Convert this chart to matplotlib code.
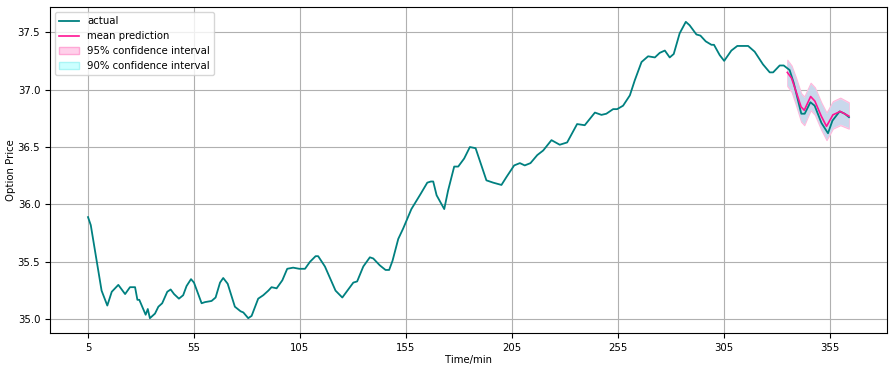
import matplotlib
matplotlib.use("Agg")
import matplotlib.pyplot as plt
from matplotlib.patches import Patch
from matplotlib.lines import Line2D

# actual option price
t_actual = [5, 6.3, 9.1, 11.4, 14.1, 16.2, 19.3, 22.5, 24.8, 27.2, 28.3, 29.2, 32.2, 33.2,
            34.2, 36.6, 38.2, 40.0, 42.4, 44.0, 45.6, 47.9, 49.9, 51.5, 53.6, 55.0, 58.6,
            60.2, 63.3, 65.2, 67.3, 68.8, 70.9, 74.3, 77.0, 78.3, 80.6, 82.2, 85.3, 87.7,
            90.1, 91.6, 94.0, 96.7, 99.0, 101.8, 104.7, 107.4, 109.7, 112.4, 113.6, 116.8,
            119.2, 121.8, 125.0, 128.6, 130.2, 132.0, 134.9, 138.0, 139.6, 142.7, 145.4,
            147.1, 148.7, 151.4, 153.7, 157.6, 161.9, 165.1, 166.8, 167.9, 169.5, 173.1,
            174.9, 177.8, 179.7, 182.5, 185.2, 187.9, 193.0, 196.2, 200.1, 202.5, 206.1,
            208.8, 211.1, 213.8, 217.0, 219.8, 223.7, 227.6, 231.1, 235.8, 239.4, 244.2,
            247.3, 249.6, 252.8, 254.7, 257.5, 260.7, 263.0, 266.2, 269.3, 272.5, 274.8,
            277.2, 279.5, 281.4, 284.2, 287.1, 288.9, 292.1, 294.0, 296.5, 299.2, 300.4,
            303.1, 305.2, 308.6, 311.4, 314.1, 316.5, 319.6, 323.5, 326.7, 328.3, 331.4,
            333.3, 336.1, 338.0, 339.6, 341.6, 343.2, 345.9, 347.9, 351.1, 354.2, 356.3,
            359.7, 362.1, 364.1]
price_actual = [35.89, 35.82, 35.51, 35.25, 35.12, 35.24, 35.30, 35.22, 35.28, 35.28, 35.17,
                35.17, 35.04, 35.09, 35.01, 35.05, 35.11, 35.14, 35.24, 35.26, 35.22, 35.18,
                35.21, 35.29, 35.35, 35.32, 35.14, 35.15, 35.16, 35.19, 35.32, 35.36, 35.31,
                35.11, 35.07, 35.06, 35.01, 35.03, 35.18, 35.21, 35.25, 35.28, 35.27, 35.34,
                35.44, 35.45, 35.44, 35.44, 35.50, 35.55, 35.55, 35.46, 35.36, 35.25, 35.19,
                35.28, 35.32, 35.33, 35.46, 35.54, 35.53, 35.47, 35.43, 35.43, 35.51, 35.70,
                35.79, 35.96, 36.09, 36.19, 36.20, 36.20, 36.08, 35.96, 36.12, 36.33, 36.33,
                36.40, 36.50, 36.49, 36.21, 36.19, 36.17, 36.24, 36.34, 36.36, 36.34, 36.36,
                36.43, 36.47, 36.56, 36.52, 36.54, 36.70, 36.69, 36.80, 36.78, 36.79, 36.83,
                36.83, 36.86, 36.95, 37.08, 37.24, 37.29, 37.28, 37.32, 37.34, 37.28, 37.31,
                37.49, 37.59, 37.56, 37.48, 37.47, 37.42, 37.39, 37.39, 37.30, 37.25, 37.34,
                37.38, 37.38, 37.38, 37.33, 37.22, 37.15, 37.15, 37.21, 37.21, 37.17, 37.06,
                36.94, 36.79, 36.79, 36.89, 36.86, 36.71, 36.62, 36.73, 36.81, 36.79, 36.76]

# prediction and its intervals
t_pred = [335, 337, 339, 341.5, 343, 346, 348, 351, 353.5, 356.5, 360, 364]
mean_pred = [37.15, 37.10, 36.99, 36.85, 36.82, 36.94, 36.90, 36.77, 36.68, 36.78, 36.81, 36.77]
hi95 = [37.26, 37.21, 37.11, 36.97, 36.94, 37.06, 37.02, 36.89, 36.80, 36.90, 36.93, 36.89]
lo95 = [37.03, 36.98, 36.87, 36.72, 36.69, 36.82, 36.78, 36.65, 36.56, 36.66, 36.69, 36.66]
hi90 = [37.25, 37.20, 37.10, 36.96, 36.93, 37.05, 37.01, 36.88, 36.79, 36.89, 36.92, 36.88]
lo90 = [37.04, 36.99, 36.88, 36.73, 36.70, 36.83, 36.79, 36.66, 36.57, 36.67, 36.70, 36.67]

plt.rcParams['font.size'] = 7.3

fig = plt.figure(figsize=(8.94, 3.71), dpi=100)
ax = fig.add_axes([0.0559, 0.1024, 0.9363, 0.8787])

ax.fill_between(t_pred, lo95, hi95, color='#ffd0ea', edgecolor='#ffb8dc', linewidth=0.8)
ax.fill_between(t_pred, lo90, hi90, color='#c9d8ec', linewidth=0)
ax.plot(t_actual, price_actual, color='teal', linewidth=1.3)
ax.plot(t_pred, mean_pred, color='#ff1493', linewidth=1.2)

handles = [Line2D([], [], color='teal', linewidth=1.3),
           Line2D([], [], color='#ff1493', linewidth=1.2),
           Patch(facecolor='#ffd0ea', edgecolor='#ffa8d6'),
           Patch(facecolor='#ccffff', edgecolor='#aaf5f5')]
ax.legend(handles, ['actual', 'mean prediction', '95% confidence interval',
                    '90% confidence interval'], loc='upper left')

ax.set_xticks(range(5, 356, 50))
ax.set_yticks([35.0, 35.5, 36.0, 36.5, 37.0, 37.5])
ax.grid(True, color='#b0b0b0', linewidth=0.8)
ax.set_axisbelow(True)
ax.set_xlabel('Time/min', labelpad=1.5)
ax.set_ylabel('Option Price', labelpad=1.5)

fig.savefig('out.png', dpi=100)
